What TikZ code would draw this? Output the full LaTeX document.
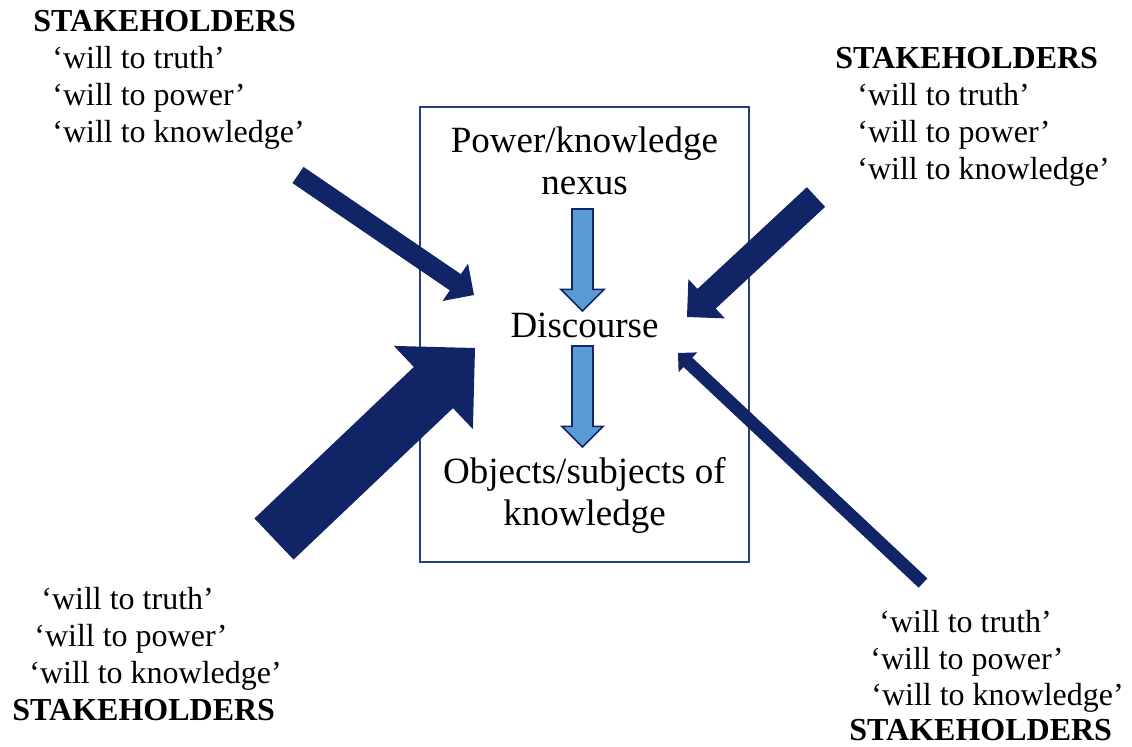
\documentclass[tikz,border=0pt]{standalone}
\usepackage{fontspec}
\setmainfont{Liberation Serif}
\usepackage{tikz}
\usetikzlibrary{calc,positioning}
\definecolor{navy}{HTML}{102466}
\definecolor{frameline}{HTML}{2A3F80}
\definecolor{flowblue}{HTML}{5B9BD5}

% block arrow: [style]{tail}{tip}{shaft half width}{head half width = head length}
\newcommand{\blockarrow}[5][stakearrow]{%
  \path ($(#3)!#5!(#2)$) coordinate (neck);
  \path[#1] ($(#2)!#4!90:(#3)$) -- ($(neck)!#4!90:(#3)$) -- ($(neck)!#5!90:(#3)$) -- (#3)
    -- ($(neck)!#5!-90:(#3)$) -- ($(neck)!#4!-90:(#3)$) -- ($(#2)!#4!-90:(#3)$) -- cycle;}

\begin{document}
\begin{tikzpicture}[x=0.5pt,y=-0.5pt,
  wills/.style={font=\fontsize{16}{18.4}\selectfont,inner sep=0pt,anchor=base west},
  stakehead/.style={wills,font=\fontsize{16}{18.4}\selectfont\bfseries},
  boxtext/.style={font=\fontsize{18.5}{21.3}\selectfont,inner sep=0pt,anchor=base},
  frame/.style={draw=frameline,line width=0.8pt,minimum width=164.5pt,minimum height=227.5pt,inner sep=0pt},
  stakearrow/.style={fill=navy},
  flowarrow/.style={fill=flowblue,draw=navy,line width=0.8pt,line join=miter}]
  \useasboundingbox (0,0) rectangle (1132,746);

  % central box
  \node[frame] (box) at (584.5,334.5) {};
  \node[boxtext] (pk) at (584.5,152) {Power/knowledge};
  \node[boxtext] (nexus) at (584.5,194) {nexus};
  \node[boxtext] (disc) at (584.5,337) {Discourse};
  \node[boxtext] (obj) at (584.5,483) {Objects/subjects of};
  \node[boxtext] (know) at (584.5,525) {knowledge};

  % stakeholders, top left
  \node[stakehead] (tlhead) at (33,31) {STAKEHOLDERS};
  \node[wills] (tl1) at (52,68) {`will to truth'};
  \node[wills] (tl2) at (52,105) {`will to power'};
  \node[wills] (tl3) at (52,142) {`will to knowledge'};

  % stakeholders, top right
  \node[stakehead] (trhead) at (835,68) {STAKEHOLDERS};
  \node[wills] (tr1) at (857,105) {`will to truth'};
  \node[wills] (tr2) at (857,142) {`will to power'};
  \node[wills] (tr3) at (857,179) {`will to knowledge'};

  % stakeholders, bottom left
  \node[wills] (bl1) at (41,609) {`will to truth'};
  \node[wills] (bl2) at (34,646) {`will to power'};
  \node[wills] (bl3) at (29,683) {`will to knowledge'};
  \node[stakehead] (blhead) at (12,720) {STAKEHOLDERS};

  % stakeholders, bottom right
  \node[wills] (br1) at (879,632) {`will to truth'};
  \node[wills] (br2) at (870,669) {`will to power'};
  \node[wills] (br3) at (871,705) {`will to knowledge'};
  \node[stakehead] (brhead) at (849,740) {STAKEHOLDERS};

  % arrow ends
  \coordinate (tlt) at (298,175); \coordinate (tlp) at (474,295);
  \coordinate (trt) at (816,197); \coordinate (trp) at (687,317);
  \coordinate (blt) at (274,539); \coordinate (blp) at (475,348);
  \coordinate (brt) at (923,583); \coordinate (brp) at (678,353);
  \coordinate (fat) at (582.5,209); \coordinate (fap) at (582.5,311);
  \coordinate (fbt) at (582.5,346); \coordinate (fbp) at (582.5,447);

  \blockarrow{tlt}{tlp}{4.9pt}{11.3pt}
  \blockarrow{trt}{trp}{6.7pt}{13.4pt}
  \blockarrow{blt}{blp}{14.2pt}{28.7pt}
  \blockarrow{brt}{brp}{3.2pt}{6.8pt}
  \blockarrow[flowarrow]{fat}{fap}{5.25pt}{10.8pt}
  \blockarrow[flowarrow]{fbt}{fbp}{5.25pt}{10.3pt}
\end{tikzpicture}
\end{document}
